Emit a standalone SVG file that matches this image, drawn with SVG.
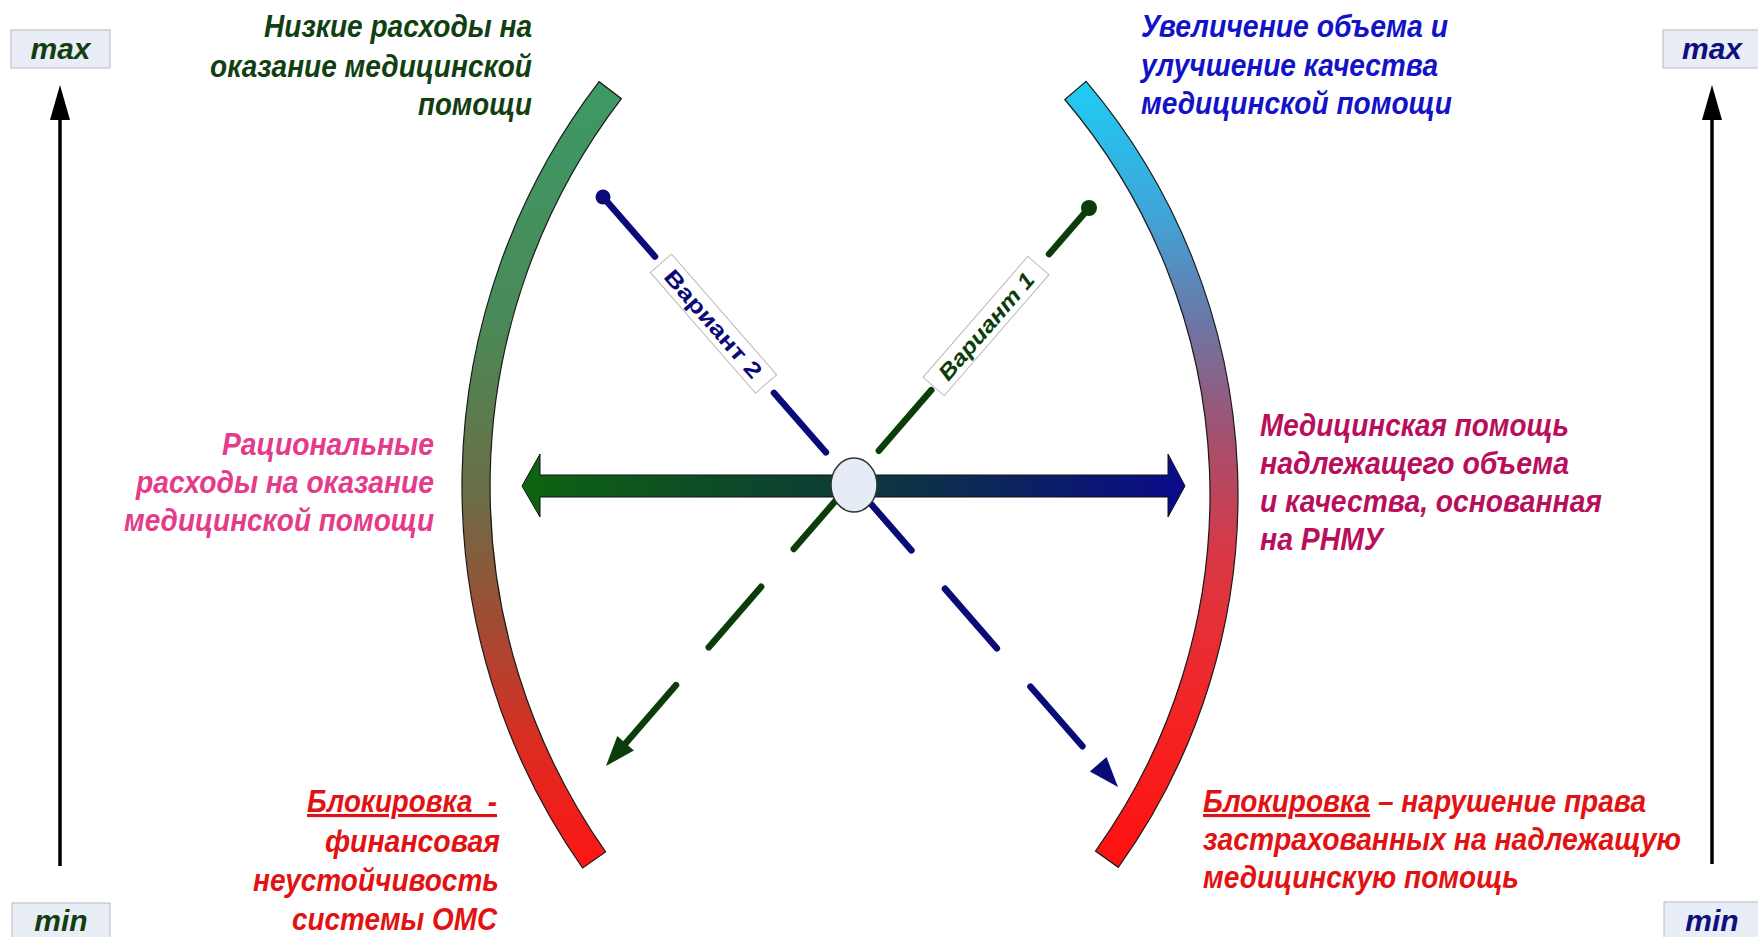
<svg xmlns="http://www.w3.org/2000/svg" width="1758" height="937" viewBox="0 0 1758 937">
<style>
.t{font-family:"Liberation Sans",Arial,sans-serif;font-weight:bold;font-style:italic;font-size:31px}
.m{font-size:30px}
.box{fill:#e9edf6;stroke:#b4b8c4;stroke-width:1}
.axis{stroke:#000;stroke-width:3.5;fill:none}
.lbl{fill:#fff;stroke:#b8b8b8;stroke-width:1}
.g{fill:#123f12}.b{fill:#1212c8}.p{fill:#e43b8b}.c{fill:#b80f5c}.r{fill:#e31212}.n{fill:#0f0f80}
</style>
<defs>
<linearGradient id="gl" gradientUnits="userSpaceOnUse" x1="0" y1="80" x2="0" y2="875">
<stop offset="0" stop-color="#3c9a66"/><stop offset="0.3" stop-color="#4a8a58"/><stop offset="0.52" stop-color="#6a6e46"/><stop offset="0.68" stop-color="#a04c34"/><stop offset="0.85" stop-color="#e02a20"/><stop offset="1" stop-color="#ff1414"/>
</linearGradient>
<linearGradient id="gr" gradientUnits="userSpaceOnUse" x1="0" y1="80" x2="0" y2="870">
<stop offset="0" stop-color="#1ecdf5"/><stop offset="0.17" stop-color="#3fa5d8"/><stop offset="0.3" stop-color="#6a78a8"/><stop offset="0.45" stop-color="#a4506e"/><stop offset="0.6" stop-color="#d83846"/><stop offset="0.8" stop-color="#f42424"/><stop offset="1" stop-color="#ff1010"/>
</linearGradient>
<linearGradient id="gh" gradientUnits="userSpaceOnUse" x1="522" y1="0" x2="1185" y2="0">
<stop offset="0" stop-color="#0e6410"/><stop offset="0.5" stop-color="#0d3a38"/><stop offset="1" stop-color="#0a0a8a"/>
</linearGradient>
</defs>
<rect width="1758" height="937" fill="#fff"/>

<g id="axis-left">
<line class="axis" x1="60" y1="866" x2="60" y2="112"/>
<polygon points="60,85 50,120 70,120" fill="#000"/>
</g>
<g id="axis-right">
<line class="axis" x1="1712" y1="864" x2="1712" y2="112"/>
<polygon points="1712,85 1702,120 1722,120" fill="#000"/>
</g>
<g id="max-left"><rect class="box" x="11" y="30" width="99" height="38"/><text class="t m g" x="60.5" y="59" text-anchor="middle">max</text></g>
<g id="min-left"><rect class="box" x="12" y="903" width="98" height="40"/><text class="t m g" x="61" y="931" text-anchor="middle">min</text></g>
<g id="max-right"><rect class="box" x="1663" y="30" width="99" height="38"/><text class="t m n" x="1712" y="59" text-anchor="middle">max</text></g>
<g id="min-right"><rect class="box" x="1664" y="902" width="98" height="40"/><text class="t m n" x="1712" y="931" text-anchor="middle">min</text></g>

<g id="arc-left">
<path d="M599.1,81.7 A665,665 0 0 0 582.6,868 L605.6,851.9 A637,637 0 0 1 621.4,98.7 Z" fill="url(#gl)" stroke="#1a1a1a" stroke-width="1.2"/>
</g>
<g id="arc-right">
<path d="M1086.1,81.4 A639,639 0 0 1 1118.3,867.3 L1095.5,851 A611,611 0 0 0 1064.8,99.5 Z" fill="url(#gr)" stroke="#1a1a1a" stroke-width="1.2"/>
</g>

<g id="connectors">
<path id="h-arrow" d="M522,486 L540,454 L540,475 L1168,475 L1168,454 L1185,486 L1168,517 L1168,497 L540,497 L540,517 Z" fill="url(#gh)" stroke="#111" stroke-width="1"/>
<g id="variant2">
<line x1="603" y1="197" x2="1100.8" y2="767.3" stroke="#0a0a78" stroke-width="6.5" stroke-linecap="round" stroke-dasharray="79 51"/>
<circle cx="603" cy="197" r="7.5" fill="#0a0a78"/>
<polygon points="1118,787 1089.9,771.4 1106.5,757" fill="#0a0a78"/>
</g>
<g id="variant1">
<line x1="1089" y1="208" x2="623" y2="746.3" stroke="#0a3d0a" stroke-width="6.5" stroke-linecap="round" stroke-dasharray="80 50" stroke-dashoffset="19"/>
<circle cx="1089" cy="208" r="8" fill="#0a3d0a"/>
<polygon points="606,766 633.9,750.5 617.3,736.1" fill="#0a3d0a"/>
</g>
</g>

<g id="label-variant2" transform="translate(713.5,323.6) rotate(48.9)">
<rect class="lbl" x="-80" y="-14" width="160" height="28"/>
<text x="0" y="8" text-anchor="middle" font-family="Liberation Sans,Arial,sans-serif" font-weight="bold" font-size="22" fill="#0a0a78" textLength="136" lengthAdjust="spacingAndGlyphs">Вариант 2</text>
</g>
<g id="label-variant1" transform="translate(986,326) rotate(-49.1)">
<rect class="lbl" x="-80" y="-14" width="160" height="28"/>
<text x="0" y="8" text-anchor="middle" font-family="Liberation Sans,Arial,sans-serif" font-weight="bold" font-style="italic" font-size="22" fill="#0a3d0a" textLength="134" lengthAdjust="spacingAndGlyphs">Вариант 1</text>
</g>

<g id="center-node">
<ellipse cx="854" cy="485" rx="23" ry="27" fill="#e6ecf6" stroke="#333" stroke-width="1.5"/>
</g>

<g id="text-top-left" class="t g">
<text x="264" y="37" textLength="268" lengthAdjust="spacingAndGlyphs">Низкие расходы на</text>
<text x="210" y="77" textLength="322" lengthAdjust="spacingAndGlyphs">оказание медицинской</text>
<text x="418" y="115" textLength="114" lengthAdjust="spacingAndGlyphs">помощи</text>
</g>
<g id="text-top-right" class="t b">
<text x="1141" y="37" textLength="307" lengthAdjust="spacingAndGlyphs">Увеличение объема и</text>
<text x="1141" y="76" textLength="297" lengthAdjust="spacingAndGlyphs">улучшение качества</text>
<text x="1141" y="114" textLength="311" lengthAdjust="spacingAndGlyphs">медицинской помощи</text>
</g>
<g id="text-mid-left" class="t p">
<text x="222" y="455" textLength="212" lengthAdjust="spacingAndGlyphs">Рациональные</text>
<text x="136" y="493" textLength="298" lengthAdjust="spacingAndGlyphs">расходы на оказание</text>
<text x="124" y="531" textLength="310" lengthAdjust="spacingAndGlyphs">медицинской помощи</text>
</g>
<g id="text-mid-right" class="t c">
<text x="1260" y="436" textLength="309" lengthAdjust="spacingAndGlyphs">Медицинская помощь</text>
<text x="1260" y="474" textLength="309" lengthAdjust="spacingAndGlyphs">надлежащего объема</text>
<text x="1260" y="512" textLength="342" lengthAdjust="spacingAndGlyphs">и качества, основанная</text>
<text x="1260" y="550" textLength="123" lengthAdjust="spacingAndGlyphs">на РНМУ</text>
</g>
<g id="text-bottom-left" class="t r">
<text x="307" y="812" textLength="190" lengthAdjust="spacingAndGlyphs" text-decoration="underline" xml:space="preserve">Блокировка  -</text>
<text x="325" y="852" textLength="175" lengthAdjust="spacingAndGlyphs">финансовая</text>
<text x="253" y="891" textLength="246" lengthAdjust="spacingAndGlyphs">неустойчивость</text>
<text x="292" y="930" textLength="205" lengthAdjust="spacingAndGlyphs">системы ОМС</text>
</g>
<g id="text-bottom-right" class="t r">
<text x="1203" y="812" textLength="443" lengthAdjust="spacingAndGlyphs"><tspan text-decoration="underline">Блокировка</tspan> – нарушение права</text>
<text x="1203" y="850" textLength="478" lengthAdjust="spacingAndGlyphs">застрахованных на надлежащую</text>
<text x="1203" y="888" textLength="316" lengthAdjust="spacingAndGlyphs">медицинскую помощь</text>
</g>
</svg>
